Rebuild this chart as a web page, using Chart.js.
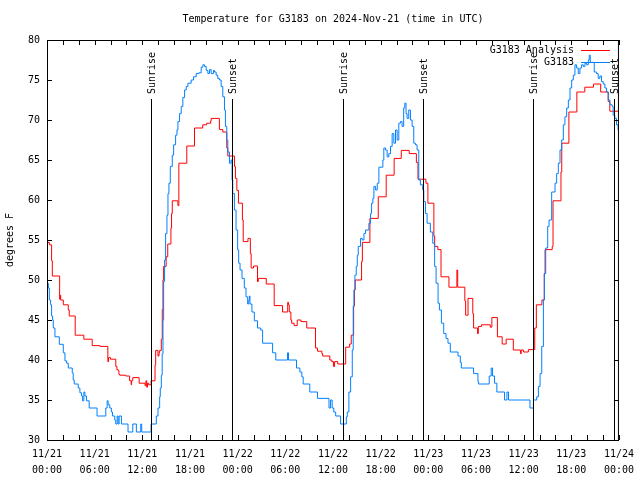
<!DOCTYPE html>
<html>
<head>
<meta charset="utf-8">
<script src="https://cdn.jsdelivr.net/npm/chart.js@4/dist/chart.umd.min.js"></script>
<style>
  html, body { margin: 0; padding: 0; background: #fff; }
  #wrap { width: 640px; height: 480px; }
</style>
</head>
<body>
<div id="wrap"><canvas id="chart" width="640" height="480"></canvas></div>
<script>
// hours since 11/21 00:00 UTC, temperatures in degrees F
const redHours = [0,0.3,0.58,0.67,1.59,1.65,1.72,2.05,2.68,2.8,3.55,4.64,5.69,6.65,7.66,7.75,7.99,8.66,8.8,8.95,9.05,9.16,9.9,10.4,10.6,10.65,10.8,11.6,12.34,12.45,12.55,12.65,12.8,13.1,13.6,13.68,13.97,14.1,14.18,14.39,14.51,14.6,14.68,15.0,15.2,15.6,15.68,15.77,16.48,16.6,17.6,18.57,19.6,20.1,20.6,20.67,21.7,22.13,22.63,22.76,23.6,23.72,23.9,24.1,24.6,24.7,25.3,25.6,25.7,26.0,26.5,26.6,27.6,28.6,29.65,30.3,30.4,30.5,30.7,30.8,31.1,31.5,31.96,32.7,33.8,34.05,34.6,34.7,35.6,35.85,36.06,36.2,36.6,37.6,38.1,38.3,38.6,38.7,38.8,39.6,39.7,40.65,41.7,42.7,43.7,44.6,45.6,46.5,46.7,47.7,47.95,48.7,48.8,49.2,49.6,50.6,51.6,51.7,52.6,52.7,53.0,53.6,53.7,54.2,54.3,54.7,55.8,56.0,56.7,57.3,57.8,58.7,59.6,59.7,60.0,60.6,61.4,61.6,62.3,62.6,62.7,63.6,63.7,64.7,64.8,65.7,66.7,67.7,68.8,69.7,70.65,70.85,72];
const redTemps = [54.7,54.4,52.4,50.5,47.6,48.1,47.5,46.9,46.25,45.5,43.1,42.6,41.8,41.7,39.8,40.3,40.1,39.2,38.8,38.7,38.2,38.1,38.0,37.4,36.9,37.4,37.8,37.1,36.8,37.4,36.6,37.1,36.9,37.4,39.4,41.2,40.5,40.9,41.2,42.6,46.3,50.0,51.7,52.9,54.5,56.5,58.3,59.9,59.3,64.6,66.75,69.0,69.4,69.6,69.9,70.2,68.8,68.5,66.5,65.5,64.2,62.7,61.2,59.6,57.5,54.8,55.2,53.3,51.5,51.75,49.8,50.2,49.5,46.8,46.0,47.2,46.9,46.0,45.0,44.6,44.3,45.0,44.8,44.0,41.5,41.1,40.8,40.5,40.0,39.8,39.2,39.8,39.5,41.6,42.0,43.1,46.75,48.75,50.0,52.3,54.7,57.7,60.4,63.1,65.2,66.2,65.8,64.7,62.6,62.1,59.6,55.5,54.2,53.8,50.4,49.1,51.25,49.1,47.4,45.6,47.7,45.8,44.0,43.3,44.2,44.4,44.1,45.3,42.9,42.0,42.6,41.25,40.8,41.25,41.0,41.3,44.0,46.9,47.5,50.8,53.8,54.2,59.9,63.5,67.1,71.0,73.5,74.1,74.5,73.5,72.3,71.1,71.1];

const blueHours = [0,0.04,0.17,0.29,0.46,0.58,0.71,0.79,1.0,1.55,2.05,2.26,2.47,2.68,3.18,3.3,3.43,3.93,4.14,4.35,4.48,4.64,4.77,4.98,5.31,6.3,7.4,7.57,7.7,7.9,8.1,8.24,8.53,8.66,8.83,8.95,9.08,9.37,10.2,10.8,11.25,11.8,11.92,13.1,13.76,13.97,14.18,14.26,14.39,14.5,14.6,14.68,14.8,14.93,15.1,15.23,15.35,15.52,15.77,15.94,16.19,16.36,16.48,16.69,16.9,17.1,17.32,17.53,17.74,18.15,18.45,18.78,19.12,19.41,19.62,19.83,20.04,20.25,20.46,20.67,20.96,21.08,21.29,21.5,21.71,21.92,22.13,22.34,22.46,22.63,22.76,22.97,23.17,23.3,23.38,23.59,23.8,24.0,24.13,24.3,24.55,24.84,25.05,25.26,25.4,25.47,25.55,25.8,26.1,26.5,26.9,27.14,28.4,28.8,30.28,30.4,31.41,31.83,32.08,32.25,33.08,34.05,35.5,35.7,35.9,36.1,36.34,36.96,37.68,37.8,38.0,38.22,38.43,38.55,38.64,38.76,38.93,39.06,39.18,39.47,39.68,39.9,40.1,40.52,40.73,40.86,41.02,41.15,41.36,41.57,41.78,42.28,42.4,42.61,42.82,43.03,43.24,43.45,43.66,43.87,44.08,44.29,44.5,44.7,44.9,45.04,45.2,45.33,45.54,45.75,45.96,46.17,46.38,46.59,46.8,47.0,47.3,47.43,47.64,47.85,48.26,48.56,48.8,48.98,49.23,49.4,49.65,49.94,50.23,50.48,50.77,51.74,52.03,52.16,53.7,54.25,54.33,55.67,55.92,56.09,56.34,56.63,57.6,57.9,58.1,60.8,61.23,61.65,61.86,62.07,62.28,62.49,62.61,62.78,63.03,63.2,63.53,63.95,64.16,64.37,64.58,64.79,65.0,65.2,65.42,65.63,65.84,66.05,66.25,66.46,66.67,66.88,67.09,67.3,67.5,67.72,67.93,68.14,68.26,68.39,68.89,69.18,69.39,69.6,69.81,70.02,70.23,70.44,70.65,70.86,71.15,71.27,71.48,71.69,71.9,72];
const blueTemps = [50.4,49.6,49.0,47.5,46.9,45.5,45.0,44.0,42.9,41.96,40.9,39.9,39.6,39.0,38.4,37.5,37.0,36.5,35.9,35.5,34.9,36.0,35.5,34.9,34.0,33.0,34.0,34.9,34.4,34.0,33.5,33.0,32.5,32.0,33.0,32.0,33.0,32.0,31.0,32.0,31.0,32.0,31.0,32.0,33.0,34.0,35.4,36.5,38.1,40.8,45.0,49.8,52.5,55.8,58.1,60.8,62.1,64.2,65.6,66.9,68.1,68.75,69.8,70.8,71.7,72.8,73.75,74.2,74.6,75.0,75.4,75.8,75.9,76.6,76.9,76.7,76.2,75.8,76.3,75.8,76.2,76.0,75.6,75.2,75.0,74.2,72.9,71.25,69.2,67.5,66.0,64.6,65.0,62.5,60.8,58.75,56.25,53.75,52.1,51.25,50.2,49.0,47.9,47.0,47.5,48.0,47.0,46.0,44.9,44.0,43.75,42.1,40.9,40.0,40.9,40.0,39.0,38.5,37.9,37.0,36.0,35.2,34.0,35.0,34.0,33.5,33.0,32.0,32.9,33.5,36.0,37.9,41.25,46.7,48.75,50.6,51.7,53.1,54.2,55.2,55.0,55.8,56.25,57.1,58.3,59.6,60.2,61.7,61.25,62.1,64.1,65.0,66.5,66.25,65.4,65.8,66.7,68.3,67.1,68.75,67.5,69.6,69.8,69.2,71.5,72.1,70.8,70.2,71.25,70.0,69.2,67.1,66.9,66.25,62.5,61.9,61.25,59.8,58.3,57.1,56.0,54.6,51.7,49.6,47.1,46.25,44.6,43.3,42.7,42.1,41.0,40.5,39.7,39.0,38.3,37.3,37.0,38.0,39.0,38.0,37.1,36.0,35.0,36.0,35.0,34.0,35.0,35.4,36.7,38.3,41.7,47.5,50.8,54.0,56.7,57.5,61.0,62.1,63.3,64.6,66.25,67.5,69.4,70.4,71.5,72.5,74.0,75.0,75.6,76.9,76.5,75.8,76.5,76.9,76.7,77.1,76.9,77.5,78.1,77.2,76.0,75.8,75.2,75.5,74.8,74.5,74.0,73.5,72.5,71.9,71.7,70.6,70.2,69.4,68.75,68.5];

const sunHours = [13.15, 23.25, 37.2, 47.32, 61.23, 71.4];
const sunLabels = ['Sunrise', 'Sunset', 'Sunrise', 'Sunset', 'Sunrise', 'Sunset'];

const tickDates = ['11/21','11/21','11/21','11/21','11/22','11/22','11/22','11/22','11/23','11/23','11/23','11/23','11/24'];
const tickTimes = ['00:00','06:00','12:00','18:00','00:00','06:00','12:00','18:00','00:00','06:00','12:00','18:00','00:00'];

const FONT = 'DejaVu Sans Mono';

function pts(xs, ys) {
  return xs.map((x, i) => ({x: x, y: ys[i]}));
}

// frame, inward tick marks, sunrise/sunset lines and the legend, like gnuplot
const gnuplotBits = {
  id: 'gnuplotBits',
  afterDatasetsDraw(chart) {
    const ctx = chart.ctx;
    const a = chart.chartArea;
    const xs = chart.scales.x, ys = chart.scales.y;
    ctx.save();
    ctx.strokeStyle = '#000';
    ctx.lineWidth = 1;
    ctx.beginPath();
    xs.ticks.forEach(t => {
      const px = Math.round(xs.getPixelForValue(t.value)) + 0.5;
      ctx.moveTo(px, a.bottom); ctx.lineTo(px, a.bottom - 5);
      ctx.moveTo(px, a.top); ctx.lineTo(px, a.top + 5);
    });
    ys.ticks.forEach(t => {
      const py = Math.round(ys.getPixelForValue(t.value)) + 0.5;
      ctx.moveTo(a.left, py); ctx.lineTo(a.left + 5, py);
      ctx.moveTo(a.right, py); ctx.lineTo(a.right - 5, py);
    });
    ctx.stroke();

    // sun lines
    ctx.beginPath();
    sunHours.forEach(h => {
      const px = Math.round(xs.getPixelForValue(h)) + 0.5;
      ctx.moveTo(px, 99); ctx.lineTo(px, a.bottom);
    });
    ctx.stroke();
    ctx.fillStyle = '#000';
    ctx.font = '10px "' + FONT + '"';
    sunHours.forEach((h, i) => {
      const px = Math.round(xs.getPixelForValue(h));
      ctx.save();
      ctx.translate(px + 1, 94);
      ctx.rotate(-Math.PI / 2);
      ctx.textAlign = 'left';
      ctx.textBaseline = 'middle';
      ctx.fillText(sunLabels[i], 0, 0);
      ctx.restore();
    });

    // legend
    chart.data.datasets.forEach((ds, i) => {
      const y = 50 + i * 12 + 0.5;
      ctx.textAlign = 'right';
      ctx.textBaseline = 'middle';
      ctx.fillStyle = '#000';
      ctx.fillText(ds.label, 574, y);
      ctx.strokeStyle = ds.borderColor;
      ctx.beginPath();
      ctx.moveTo(581, y); ctx.lineTo(610, y);
      ctx.stroke();
    });

    // frame
    ctx.strokeStyle = '#000';
    ctx.strokeRect(a.left + 0.5, a.top + 0.5, a.right - a.left - 1, a.bottom - a.top);
    ctx.restore();
  }
};

const ctx = document.getElementById('chart').getContext('2d');
const myChart = new Chart(ctx, {
  type: 'line',
  data: {
    datasets: [{
      label: 'G3183 Analysis',
      data: pts(redHours, redTemps),
      borderColor: '#ff0000',
      borderWidth: 1,
      pointRadius: 0,
      stepped: true,
      order: 1
    }, {
      label: 'G3183',
      data: pts(blueHours, blueTemps),
      borderColor: 'rgb(0,128,255)',
      borderWidth: 1,
      pointRadius: 0,
      stepped: true,
      order: 0
    }]
  },
  options: {
    responsive: false,
    animation: false,
    layout: { padding: { left: 0, right: 19, top: 0, bottom: 0 } },
    plugins: {
      legend: { display: false },
      tooltip: { enabled: false },
      title: {
        display: true,
        fullSize: false,
        text: 'Temperature for G3183 on 2024-Nov-21 (time in UTC)',
        color: '#000',
        font: { family: FONT, size: 10, weight: 'normal', lineHeight: 1.2 },
        padding: { top: 13, bottom: 15 }
      }
    },
    scales: {
      x: {
        type: 'linear',
        min: 0,
        max: 72,
        grid: { display: false, drawTicks: false },
        border: { display: false },
        afterFit(scale) { scale.height = 40; },
        ticks: {
          stepSize: 2,
          autoSkip: false,
          maxRotation: 0,
          padding: 6,
          color: '#000',
          font: { family: FONT, size: 10, lineHeight: 1.6 },
          callback: v => (v % 6 === 0 ? [tickDates[v / 6], tickTimes[v / 6]] : '')
        }
      },
      y: {
        min: 30,
        max: 80,
        grid: { display: false, drawTicks: false },
        border: { display: false },
        afterFit(scale) { scale.width = 47; },
        ticks: {
          stepSize: 5,
          padding: 7,
          color: '#000',
          font: { family: FONT, size: 10 }
        },
        title: {
          display: true,
          text: 'degrees F',
          color: '#000',
          font: { family: FONT, size: 10, lineHeight: 1.2 },
          padding: { top: 4, bottom: 0 }
        }
      }
    }
  },
  plugins: [gnuplotBits]
});
</script>
</body>
</html>
